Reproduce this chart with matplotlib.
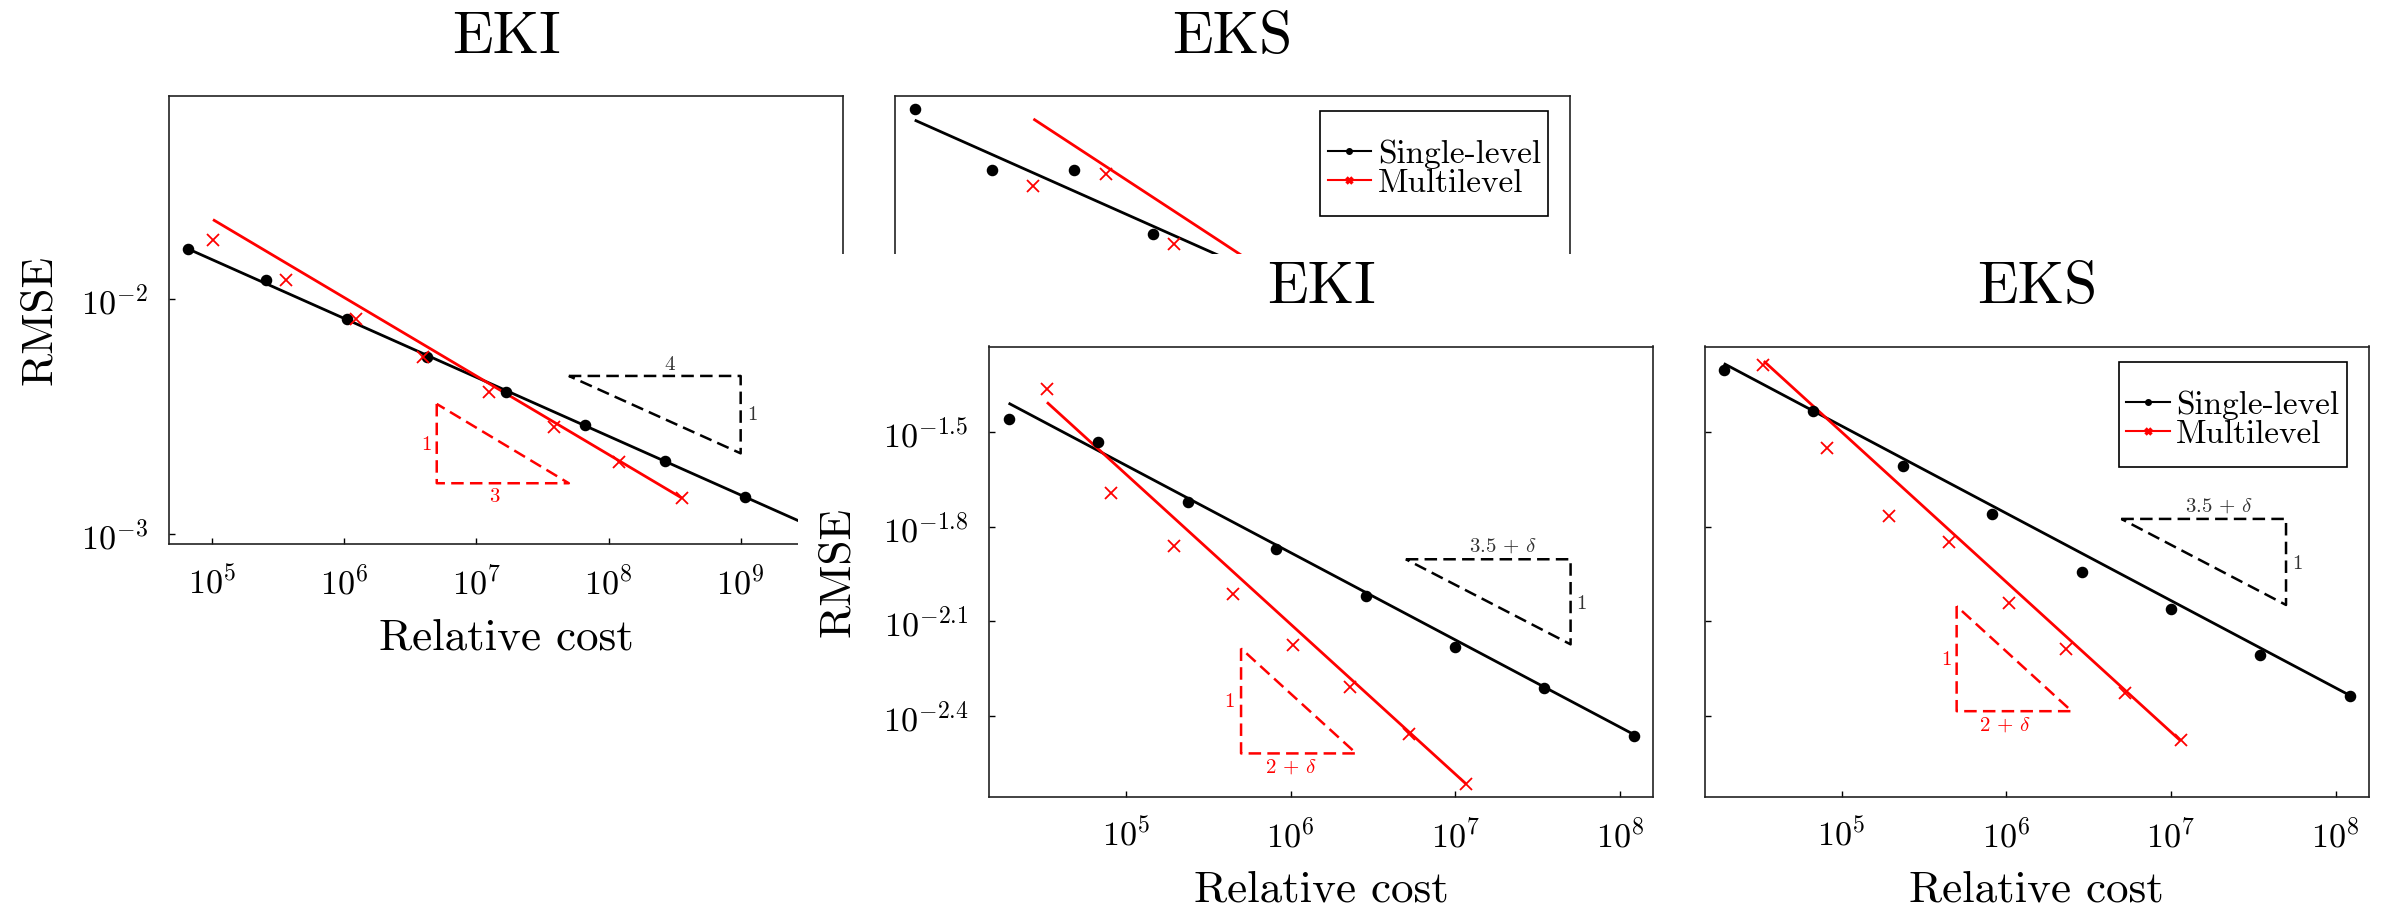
import numpy as np
import matplotlib
matplotlib.use("Agg")
import matplotlib.pyplot as plt
from matplotlib.lines import Line2D
from matplotlib.patches import Rectangle
from matplotlib.path import Path
from matplotlib.ticker import FixedLocator, FixedFormatter, NullLocator

plt.rcParams["font.family"] = "cmr10"
plt.rcParams["mathtext.fontset"] = "cm"
plt.rcParams["axes.unicode_minus"] = False

W, H = 2381, 910

# --- values, all as log10 ---
# upper figure (first run)
top_sl_cost = [4.818, 5.406, 6.022, 6.622, 7.223, 7.821, 8.427, 9.032]
top_eki_sl_rmse = [-1.788, -1.919, -2.084, -2.245, -2.394, -2.535, -2.688, -2.840]
top_eki_ml_cost = [5.005, 5.558, 6.088, 6.597, 7.097, 7.589, 8.079, 8.553]
top_eki_ml_rmse = [-1.751, -1.919, -2.086, -2.245, -2.394, -2.543, -2.694, -2.847]
top_eks_sl_rmse = [-1.191, -1.452, -1.452, -1.725]      # rest is hidden
top_eks_ml_cost = [5.717, 6.267, 6.782]
top_eks_ml_rmse = [-1.518, -1.470, -1.766]

# lower figure (second run)
bot_sl_cost = [4.288, 4.828, 5.374, 5.912, 6.458, 6.998, 7.540, 8.086]
bot_ml_cost = [4.521, 4.911, 5.291, 5.653, 6.014, 6.361, 6.719, 7.063]
bot_eki_sl_rmse = [-1.457, -1.530, -1.722, -1.869, -2.020, -2.180, -2.311, -2.464]
bot_eki_ml_rmse = [-1.363, -1.692, -1.860, -2.012, -2.175, -2.308, -2.457, -2.615]
bot_eks_sl_rmse = [-1.304, -1.432, -1.606, -1.760, -1.943, -2.060, -2.206, -2.337]
bot_eks_ml_rmse = [-1.288, -1.549, -1.767, -1.849, -2.042, -2.189, -2.326, -2.478]

# rate lines: slope, intercept, x start, x end (log10)
top_eki_sl_fit = (-0.25, -0.583, 4.818, 9.8)
top_eki_ml_fit = (-1 / 3, 0.0057, 5.005, 8.553)
top_eks_sl_fit = (-0.25, -0.035, 4.819, 9.8)
top_eks_ml_fit = (-0.368, 0.869, 5.717, 9.8)
bot_eki_sl_fit = (-0.277, -0.220, 4.288, 8.086)
bot_eki_ml_fit = (-0.476, 0.747, 4.521, 7.063)
bot_eks_sl_fit = (-0.277, -0.095, 4.285, 8.088)
bot_eks_ml_fit = (-0.476, 0.881, 4.528, 7.059)

# slope triangles: x0, x1, y top, y bottom (log10)
top_eki_tri_sl = (7.699, 9.0, -2.327, -2.656)
top_eki_tri_ml = (6.699, 7.699, -2.446, -2.783)
bot_eki_tri_sl = (6.699, 7.699, -1.903, -2.173)
bot_eki_tri_ml = (5.699, 6.398, -2.186, -2.519)
bot_eks_tri_sl = (6.699, 7.699, -1.775, -2.048)
bot_eks_tri_ml = (5.699, 6.398, -2.052, -2.385)

top_xticks = [5, 6, 7, 8, 9]
top_yticks = ["-2", "-3"]
bot_xticks = [5, 6, 7, 8]
bot_yticks = ["-1.5", "-1.8", "-2.1", "-2.4"]

RED = "#ff0000"
GREY = "#333333"
TICK_FS, LABEL_FS, TITLE_FS, LEG_FS, SMALL_FS = 24.5, 32.5, 43, 24, 15


def p(v):
    return 10.0 ** np.asarray(v, dtype=float)


def add_axes_px(l, t, r, b):
    return fig.add_axes([l / W, 1 - b / H, (r - l) / W, (b - t) / H])


def style(ax, xlim, ylim, xticks, yticks, ylabels=True):
    ax.set_xscale("log")
    ax.set_yscale("log")
    ax.set_xlim(p(xlim[0]), p(xlim[1]))
    ax.set_ylim(p(ylim[0]), p(ylim[1]))
    ax.xaxis.set_major_locator(FixedLocator([10.0 ** k for k in xticks]))
    ax.xaxis.set_major_formatter(FixedFormatter([rf"$10^{{{k}}}$" for k in xticks]))
    ax.yaxis.set_major_locator(FixedLocator([10.0 ** float(k) for k in yticks]))
    ax.yaxis.set_major_formatter(FixedFormatter([rf"$10^{{{k}}}$" for k in yticks]))
    ax.xaxis.set_minor_locator(NullLocator())
    ax.yaxis.set_minor_locator(NullLocator())
    ax.tick_params(direction="in", length=4.3, width=1.0, pad=15, labelsize=TICK_FS,
                   top=False, right=False, labelleft=ylabels)
    for s in ax.spines.values():
        s.set_linewidth(1.2)
        s.set_color("#222222")


def fit_line(ax, fit, color):
    slope, icpt, x0, x1 = fit
    xs = np.array([x0, x1])
    ax.plot(p(xs), p(icpt + slope * xs), color=color, lw=2.0, solid_capstyle="butt")


def points(ax, x, y, kind):
    if kind == "sl":
        ax.plot(p(x), p(y), "o", color="k", ms=7.3, ls="none")
    else:
        ax.plot(p(x), p(y), "x", color=RED, ms=9, mew=1.3, ls="none")


def triangle(ax, tri, kind):
    x0, x1, yt, yb = tri
    if kind == "sl":
        xs, ys = [x0, x1, x1, x0], [yt, yt, yb, yt]
        c = "k"
    else:
        xs, ys = [x0, x0, x1, x0], [yt, yb, yb, yt]
        c = RED
    ax.plot(p(xs), p(ys), color=c, lw=1.8, ls=(0, (5, 2.5)))


def tri_label(ax, x, y, s, color):
    ax.text(p(x), p(y), s, color=color, fontsize=SMALL_FS, ha="center", va="center")


# legend frame taller than matplotlib would make it (pgfplots look)
LEG_PAD_TOP, LEG_PAD_BOT = 0.62, 0.32


def tall_box(x0, y0, width, height, mutation_size):
    dt = LEG_PAD_TOP * mutation_size
    db = LEG_PAD_BOT * mutation_size
    return Path([(x0, y0 - db), (x0 + width, y0 - db), (x0 + width, y0 + height + dt),
                 (x0, y0 + height + dt), (x0, y0 - db)], closed=True)


def legend(ax, ax_w, ax_h):
    handles = [
        Line2D([], [], color="k", lw=1.5, marker="o", ms=4),
        Line2D([], [], color=RED, lw=1.5, marker="x", ms=5, mew=2.5),
    ]
    dt = LEG_PAD_TOP * LEG_FS * 100 / 72
    leg = ax.legend(handles, ["Single-level", "Multilevel"], loc="upper right",
                    bbox_to_anchor=(1 - 22 / ax_w, 1 - (15.5 + dt) / ax_h),
                    borderaxespad=0, fontsize=LEG_FS, fancybox=False, framealpha=1,
                    edgecolor="k", handlelength=1.3, handletextpad=0.2,
                    borderpad=0.22, labelspacing=0.0)
    leg.get_frame().set_boxstyle(tall_box)
    leg.get_frame().set_linewidth(1.2)


fig = plt.figure(figsize=(W / 100, H / 100), dpi=100)

ax1 = add_axes_px(169, 95.7, 843.3, 544.3)
ax2 = add_axes_px(895.3, 95.7, 1570, 544.3)
ax3 = add_axes_px(989.3, 346.5, 1653.3, 796.6)
ax4 = add_axes_px(1705, 346.5, 2368.7, 796.6)

top_xlim, top_ylim = (4.672, 9.777), (-3.0425, -1.136)
bot_xlim, bot_ylim = (4.171, 8.201), (-2.656, -1.228)

# ---- upper figure ----
style(ax1, top_xlim, top_ylim, top_xticks, top_yticks)
fit_line(ax1, top_eki_sl_fit, "k")
fit_line(ax1, top_eki_ml_fit, RED)
points(ax1, top_sl_cost, top_eki_sl_rmse, "sl")
points(ax1, top_eki_ml_cost, top_eki_ml_rmse, "ml")
triangle(ax1, top_eki_tri_sl, "sl")
triangle(ax1, top_eki_tri_ml, "ml")
tri_label(ax1, 8.465, -2.28, "4", GREY)
tri_label(ax1, 9.088, -2.493, "1", GREY)
tri_label(ax1, 6.618, -2.62, "1", RED)
tri_label(ax1, 7.133, -2.84, "3", RED)
ax1.set_title("EKI", fontsize=TITLE_FS, pad=31)
ax1.set_xlabel("Relative cost", fontsize=LABEL_FS, labelpad=13)
ax1.set_ylabel("RMSE", fontsize=LABEL_FS, labelpad=15)

style(ax2, top_xlim, top_ylim, top_xticks, top_yticks, ylabels=False)
fit_line(ax2, top_eks_sl_fit, "k")
fit_line(ax2, top_eks_ml_fit, RED)
points(ax2, top_sl_cost[:len(top_eks_sl_rmse)], top_eks_sl_rmse, "sl")
points(ax2, top_eks_ml_cost, top_eks_ml_rmse, "ml")
ax2.set_title("EKS", fontsize=TITLE_FS, pad=31)
legend(ax2, 674.7, 448.6)

# the second figure is pasted over the first one
fig.add_artist(Rectangle((798 / W, 0), 1 - 798 / W, 1 - 254 / H,
                         transform=fig.transFigure, facecolor="white",
                         edgecolor="none", zorder=1))

# ---- lower figure ----
for ax in (ax3, ax4):
    ax.set_zorder(2)

style(ax3, bot_xlim, bot_ylim, bot_xticks, bot_yticks)
fit_line(ax3, bot_eki_sl_fit, "k")
fit_line(ax3, bot_eki_ml_fit, RED)
points(ax3, bot_sl_cost, bot_eki_sl_rmse, "sl")
points(ax3, bot_ml_cost, bot_eki_ml_rmse, "ml")
triangle(ax3, bot_eki_tri_sl, "sl")
triangle(ax3, bot_eki_tri_ml, "ml")
tri_label(ax3, 7.29, -1.862, r"$3.5\,+\,\delta$", GREY)
tri_label(ax3, 7.767, -2.044, "1", GREY)
tri_label(ax3, 5.629, -2.355, "1", RED)
tri_label(ax3, 6.0, -2.562, r"$2\,+\,\delta$", RED)
ax3.set_title("EKI", fontsize=TITLE_FS, pad=31)
ax3.set_xlabel("Relative cost", fontsize=LABEL_FS, labelpad=13)
ax3.set_ylabel("RMSE", fontsize=LABEL_FS, labelpad=18)

style(ax4, bot_xlim, bot_ylim, bot_xticks, bot_yticks, ylabels=False)
fit_line(ax4, bot_eks_sl_fit, "k")
fit_line(ax4, bot_eks_ml_fit, RED)
points(ax4, bot_sl_cost, bot_eks_sl_rmse, "sl")
points(ax4, bot_ml_cost, bot_eks_ml_rmse, "ml")
triangle(ax4, bot_eks_tri_sl, "sl")
triangle(ax4, bot_eks_tri_ml, "ml")
tri_label(ax4, 7.288, -1.736, r"$3.5\,+\,\delta$", GREY)
tri_label(ax4, 7.768, -1.917, "1", GREY)
tri_label(ax4, 5.634, -2.222, "1", RED)
tri_label(ax4, 5.992, -2.428, r"$2\,+\,\delta$", RED)
ax4.set_title("EKS", fontsize=TITLE_FS, pad=31)
ax4.set_xlabel("Relative cost", fontsize=LABEL_FS, labelpad=13)
legend(ax4, 663.7, 450.1)

fig.savefig("out.png", dpi=100)
